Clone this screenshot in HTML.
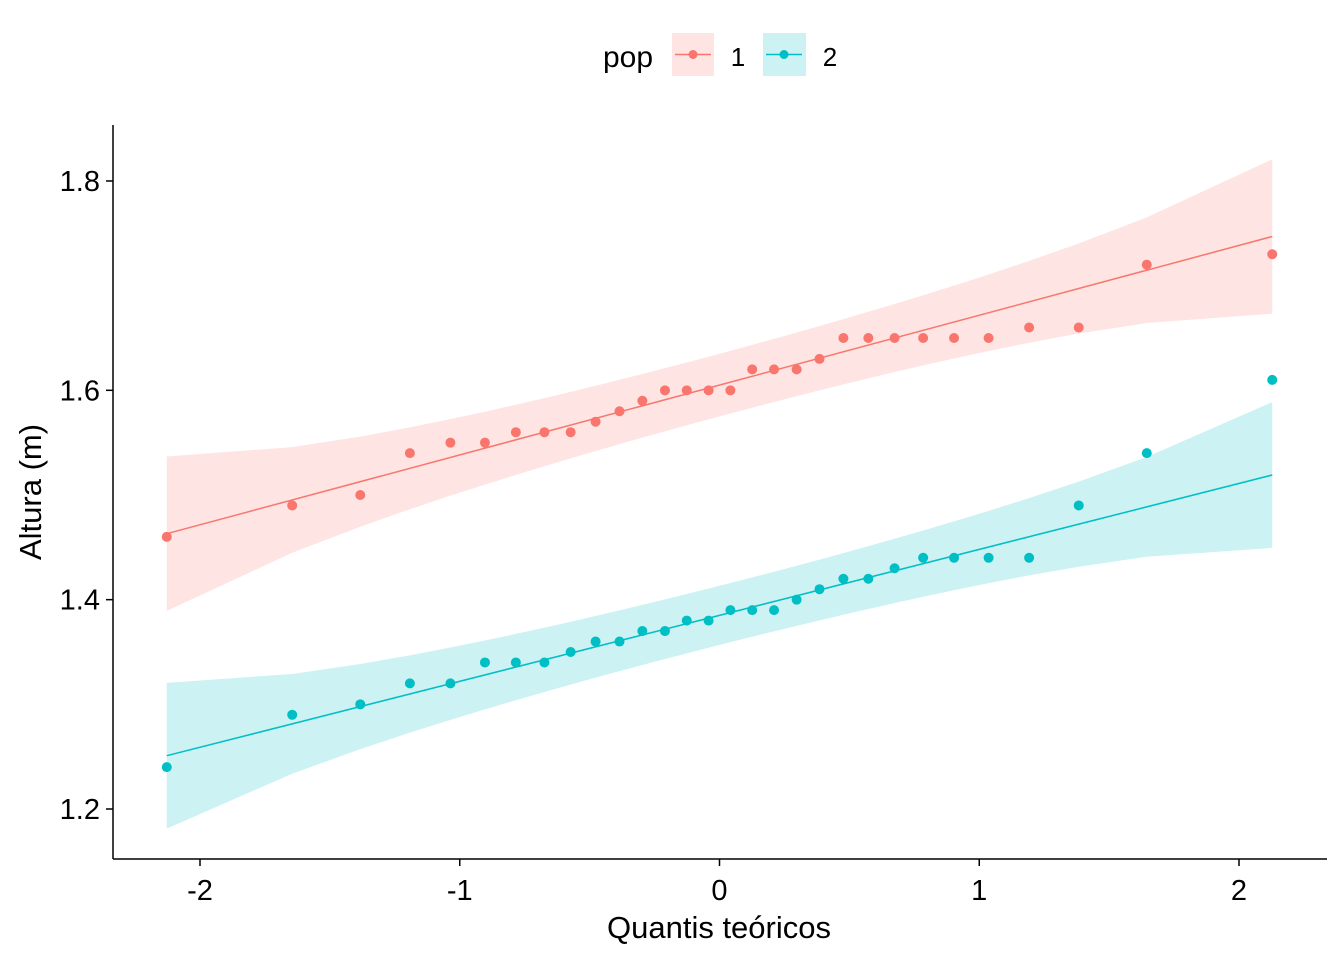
<!DOCTYPE html>
<html><head><meta charset="utf-8"><style>
body{margin:0;background:#fff}
text{font-family:"Liberation Sans",Arial,sans-serif}
</style></head><body>
<svg id="c" width="1344" height="960" xmlns="http://www.w3.org/2000/svg">
<rect width="1344" height="960" fill="#fff"/>
<g id="legend">
<text x="628" y="67" font-size="30" text-anchor="middle">pop</text>
<g>
<rect x="672" y="33" width="42" height="43" fill="#F8766D" fill-opacity="0.2"/>
<line x1="675" x2="711" y1="54.5" y2="54.5" stroke="#F8766D" stroke-width="1.5"/>
<circle cx="693" cy="54.5" r="4.5" fill="#F8766D"/>
<text x="738" y="66" font-size="26" text-anchor="middle">1</text>
</g>
<g>
<rect x="763" y="33" width="43" height="43" fill="#00BFC4" fill-opacity="0.2"/>
<line x1="766" x2="802" y1="54.5" y2="54.5" stroke="#00BFC4" stroke-width="1.5"/>
<circle cx="784" cy="54.5" r="4.5" fill="#00BFC4"/>
<text x="830" y="66" font-size="26" text-anchor="middle">2</text>
</g>
</g>
<g id="plot"></g>
<line x1="113" y1="125" x2="113" y2="859" stroke="#000" stroke-width="1.5"/>
<line x1="113" y1="859" x2="1327" y2="859" stroke="#000" stroke-width="1.5"/>
<g id="axes"></g>
<text x="719" y="938" font-size="31" text-anchor="middle">Quantis teóricos</text>
<text transform="translate(41,492) rotate(-90)" font-size="31" text-anchor="middle">Altura (m)</text>
</svg>
<script>
const quantiles=[-2.128,-1.645,-1.383,-1.192,-1.036,-0.903,-0.784,-0.674,-0.573,-0.477,-0.385,-0.297,-0.210,-0.126,-0.042,0.042,0.126,0.210,0.297,0.385,0.477,0.573,0.674,0.784,0.903,1.036,1.192,1.383,1.645,2.128];
const pop1=[1.46,1.49,1.50,1.54,1.55,1.55,1.56,1.56,1.56,1.57,1.58,1.59,1.60,1.60,1.60,1.60,1.62,1.62,1.62,1.63,1.65,1.65,1.65,1.65,1.65,1.65,1.66,1.66,1.72,1.73];
const pop2=[1.24,1.29,1.30,1.32,1.32,1.34,1.34,1.34,1.35,1.36,1.36,1.37,1.37,1.38,1.38,1.39,1.39,1.39,1.40,1.41,1.42,1.42,1.43,1.44,1.44,1.44,1.44,1.49,1.54,1.61];
const xTicks=[-2,-1,0,1,2];
const yTicks=[1.2,1.4,1.6,1.8];
const X=v=>719.5+v*259.75;
const Y=v=>809-(v-1.2)*1046.7;
const NS="http://www.w3.org/2000/svg";
const plot=document.getElementById('plot'),axes=document.getElementById('axes');
function mk(t,a,p){const e=document.createElementNS(NS,t);for(const k in a)e.setAttribute(k,a[k]);p.appendChild(e);return e;}
function q(arr,p){const h=(arr.length-1)*p;const lo=Math.floor(h);return arr[lo]+(h-lo)*(arr[Math.min(lo+1,arr.length-1)]-arr[lo]);}
function dnorm(x){return Math.exp(-x*x/2)/Math.sqrt(2*Math.PI);}
function series(ys,col,name){
  const s=[...ys].sort((a,b)=>a-b),n=s.length;
  const q1=q(s,.25),q3=q(s,.75),z=0.67449;
  const slope=(q3-q1)/(2*z),icpt=q1+z*slope;
  const up=[],dn=[];
  quantiles.forEach((x,i)=>{const p=(i+0.5)/n;const se=slope*Math.sqrt(p*(1-p)/n)/dnorm(x);const f=icpt+slope*x;up.push(X(x)+','+Y(f+1.96*se));dn.unshift(X(x)+','+Y(f-1.96*se));});
  const band=mk('polygon',{points:up.concat(dn).join(' '),fill:col,'fill-opacity':0.2},plot);
  
  
  const x0=quantiles[0],x1=quantiles[quantiles.length-1];
  const ln=mk('line',{x1:X(x0),x2:X(x1),y1:Y(icpt+slope*x0),y2:Y(icpt+slope*x1),stroke:col,'stroke-width':1.5},plot);
  
  
  s.forEach((v,i)=>{const c=mk('circle',{cx:X(quantiles[i]),cy:Y(v),r:5,fill:col},plot);
    
    });
}
series(pop1,'#F8766D','pop1');
series(pop2,'#00BFC4','pop2');
xTicks.forEach(v=>{const l=mk('line',{x1:X(v),x2:X(v),y1:859,y2:866,stroke:'#000','stroke-width':1.5},axes);
  
  
  const t=mk('text',{x:X(v),y:900,'font-size':29,'text-anchor':'middle'},axes);t.textContent=v<0?'-'+Math.abs(v):v;
  
  });
yTicks.forEach(v=>{const l=mk('line',{x1:106,x2:113,y1:Y(v),y2:Y(v),stroke:'#000','stroke-width':1.5},axes);
  
  
  const t=mk('text',{x:100,y:Y(v)+10,'font-size':29,'text-anchor':'end'},axes);t.textContent=v.toFixed(1);
  
  });
</script>
</body></html>
